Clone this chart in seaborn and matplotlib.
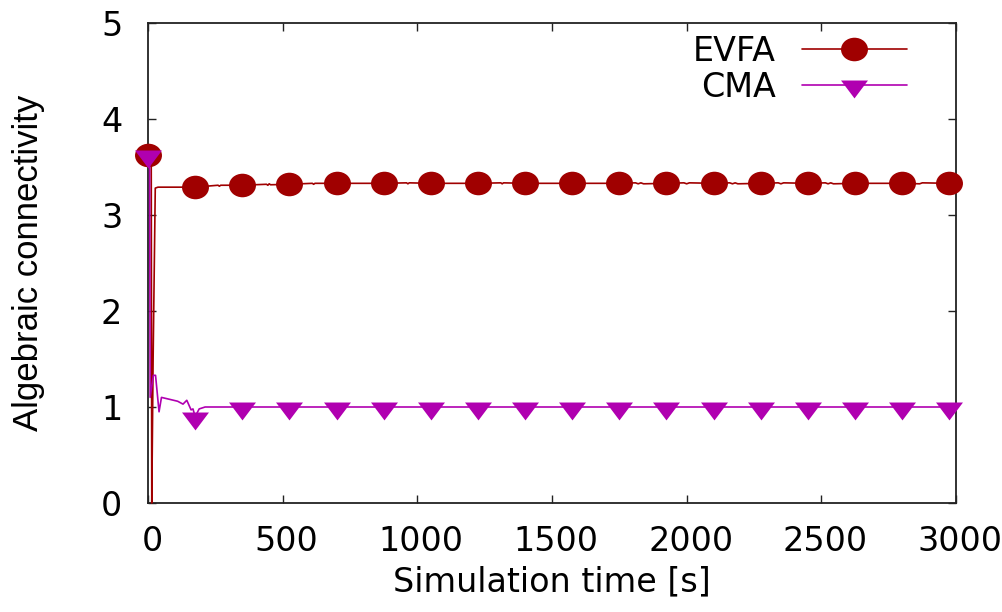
import numpy as np
import pandas as pd
import matplotlib
matplotlib.use("Agg")
import matplotlib.pyplot as plt
import seaborn as sns
from matplotlib.path import Path
from matplotlib.transforms import Affine2D, ScaledTranslation

# Sample times carrying a point symbol
mark_t = [0, 175, 350, 525, 700, 875, 1050, 1225, 1400, 1575,
          1750, 1925, 2100, 2275, 2450, 2625, 2800, 2975]
evfa_mark = [3.62, 3.29, 3.31, 3.32, 3.33, 3.33, 3.33, 3.33, 3.33, 3.33,
             3.33, 3.33, 3.33, 3.33, 3.33, 3.33, 3.33, 3.33]
cma_mark = [3.62, 0.90, 1.00, 1.00, 1.00, 1.00, 1.00, 1.00, 1.00, 1.00,
            1.00, 1.00, 1.00, 1.00, 1.00, 1.00, 1.00, 1.00]

# Remaining samples of each trace (start-up transient and small ripples)
evfa_t = [12, 14, 19, 27, 37, 100, 260, 265, 270, 440, 445, 450, 455,
          610, 615, 620, 960, 965, 970, 1310, 1315, 1320,
          1810, 1820, 1830, 1840, 1990, 2000, 2010, 2160, 2170, 2180, 2190,
          2340, 2350, 2360, 2515, 2525, 2535, 2545, 2865, 2875]
evfa_v = [3.60, 0.00, 1.50, 3.28, 3.29, 3.29, 3.31, 3.30, 3.31, 3.32, 3.31, 3.325, 3.315,
          3.33, 3.32, 3.33, 3.335, 3.325, 3.335, 3.335, 3.325, 3.335,
          3.335, 3.325, 3.335, 3.325, 3.335, 3.325, 3.335, 3.335, 3.325, 3.335, 3.325,
          3.335, 3.325, 3.335, 3.335, 3.325, 3.335, 3.325, 3.325, 3.335]
cma_t = [6, 8, 20, 28, 41, 50, 80, 110, 130, 144, 160, 167, 190, 212]
cma_v = [3.60, 1.10, 1.33, 1.33, 0.95, 1.10, 1.08, 1.06, 1.03, 1.07, 0.97, 0.98, 0.98, 1.00]

x_ticks = [0, 500, 1000, 1500, 2000, 2500, 3000]
y_ticks = [0, 1, 2, 3, 4, 5]

evfa_color = "#a00000"
cma_color = "#b000b0"


def series(name, t_line, v_line):
    df = pd.DataFrame({"t": list(mark_t) + list(t_line),
                       "v": (evfa_mark if name == "EVFA" else cma_mark) + list(v_line)})
    df = df.sort_values("t").reset_index(drop=True)
    idx = list(np.flatnonzero(np.isin(df["t"].values, mark_t)))
    return df, idx


sns.set_style("ticks")
plt.rcParams["font.family"] = ["DejaVu Sans"]
plt.rcParams["font.size"] = 24
for key in ("text.color", "axes.labelcolor", "xtick.color", "ytick.color", "axes.edgecolor"):
    plt.rcParams[key] = "black"

fig = plt.figure(figsize=(10.02, 6.12), dpi=100)
ax = fig.add_axes([148 / 1002, 1 - 503 / 612, (956 - 148) / 1002, (503 - 23) / 612])

# point symbols: slightly flattened disc and a down-pointing triangle
disc = Path.unit_circle().transformed(Affine2D().scale(1.0, 0.875))
tri = Path([(-1.0, 0.37), (1.0, 0.37), (0.0, -0.96), (-1.0, 0.37)],
           [Path.MOVETO, Path.LINETO, Path.LINETO, Path.CLOSEPOLY])

df_e, idx_e = series("EVFA", evfa_t, evfa_v)
df_c, idx_c = series("CMA", cma_t, cma_v)

sns.lineplot(data=df_e, x="t", y="v", ax=ax, color=evfa_color, lw=1.2,
             marker=disc, markersize=19.4, markevery=idx_e,
             markeredgewidth=0, markerfacecolor=evfa_color, label="EVFA",
             estimator=None, sort=False, clip_on=False)
sns.lineplot(data=df_c, x="t", y="v", ax=ax, color=cma_color, lw=1.2,
             marker=tri, markersize=19.4, markevery=idx_c,
             markeredgewidth=0, markerfacecolor=cma_color, label="CMA",
             estimator=None, sort=False, clip_on=False)

ax.set_xlim(0, 3000)
ax.set_ylim(0, 5)
ax.set_xticks(x_ticks)
ax.set_yticks(y_ticks)
ax.tick_params(direction="in", length=6, width=1.0, top=True, right=True,
               color="#222222", labelsize=24, labelcolor="black")
ax.tick_params(axis="y", pad=18.5)
ax.tick_params(axis="x", pad=15.5)
for s in ax.spines.values():
    s.set_linewidth(1.3)
    s.set_color("#222222")
    s.set_zorder(1.5)

shift = ScaledTranslation(4 / 100, 0, fig.dpi_scale_trans)
for lab in ax.get_xticklabels():
    lab.set_transform(lab.get_transform() + shift)

ax.set_xlabel("Simulation time [s]", fontsize=24, labelpad=6, color="black")
ax.set_ylabel("Algebraic connectivity", fontsize=25, color="black",
              family=["Liberation Sans", "DejaVu Sans"])
ax.yaxis.set_label_coords(-0.127, 0.5)

leg = ax.legend(loc="upper right", bbox_to_anchor=(0.939, 0.976), frameon=False,
                markerfirst=False, numpoints=1, handlelength=3.15, handletextpad=0.78,
                labelspacing=0.09, borderpad=0, borderaxespad=0, fontsize=24)
for txt in leg.get_texts():
    txt.set_color("black")

fig.savefig("out.png", dpi=100)
